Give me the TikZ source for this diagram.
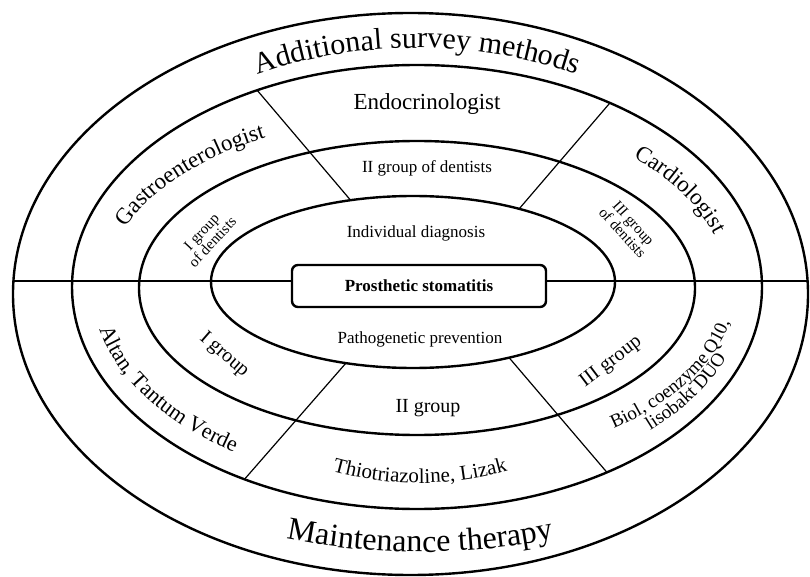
\documentclass[tikz,border=0pt]{standalone}
\usepackage{fontspec}
\setmainfont{Liberation Serif}
\usetikzlibrary{calc,decorations.text}
\begin{document}
\begin{tikzpicture}[x=1pt,y=1pt,
  ring/.style={line width=2.4pt},
  divider/.style={line width=1.2pt},
  hline/.style={line width=1.4pt},
  lbl/.style={inner sep=0pt, anchor=base, font=\fontsize{17}{19}\selectfont},
  small/.style={inner sep=0pt, align=center, font=\fontsize{15}{11.5}\selectfont},
  mid/.style={inner sep=0pt, font=\fontsize{20}{22}\selectfont},
  curved/.style={decorate, decoration={text along path, text align=center, text={#1}}},
]
\useasboundingbox (0,0) rectangle (810,576);
% centres of the rings
\coordinate (c1) at (410.5,282);
\coordinate (c2) at (417,289);
\coordinate (c3) at (417,288);
\coordinate (c4) at (413,294);
\coordinate (ct) at (420,290);
% rings
\draw[ring] (c1) ellipse [x radius=397.5, y radius=281];
\draw[ring] (c2) ellipse [x radius=345, y radius=222];
\draw[ring] (c3) ellipse [x radius=278, y radius=147];
\draw[ring] (c4) ellipse [x radius=202, y radius=86];
% central box
\node[draw, line width=2.4pt, rounded corners=6pt, minimum width=254pt, minimum height=42pt,
      font=\fontsize{17}{19}\selectfont\bfseries] (box) at (419,290) {Prosthetic stomatitis};
% horizontal line
\coordinate (hl) at (13,295);
\coordinate (hr) at (808,295);
\draw[hline] (hl) -- (hl -| box.west);
\draw[hline] (hr -| box.east) -- (hr);
% dividers
\coordinate (ula) at ($(c2)+(117.6:345pt and 222pt)$);
\coordinate (ulb) at ($(c4)+(108:202pt and 86pt)$);
\coordinate (ura) at ($(c2)+(56:345pt and 222pt)$);
\coordinate (urb) at ($(c4)+(58.3:202pt and 86pt)$);
\coordinate (lla) at ($(c2)+(240:345pt and 222pt)$);
\coordinate (llb) at ($(c4)+(250.6:202pt and 86pt)$);
\coordinate (lra) at ($(c2)+(303.4:345pt and 222pt)$);
\coordinate (lrb) at ($(c4)+(298.4:202pt and 86pt)$);
\draw[divider] (ula) -- (ulb);
\draw[divider] (ura) -- (urb);
\draw[divider] (lla) -- (llb);
\draw[divider] (lra) -- (lrb);
% straight labels
\node[lbl, font=\fontsize{23}{25}\selectfont] (endo) at (427,466) {Endocrinologist};
\node[lbl] (g2d) at (427,403) {II group of dentists};
\node[lbl] (indiv) at (416,338) {Individual diagnosis};
\node[lbl] (patho) at (420,233) {Pathogenetic prevention};
\node[lbl, font=\fontsize{20}{22}\selectfont] (g2) at (428,164) {II group};
% rotated labels
\node[small, rotate=47] (g1d) at (207,339) {I group\\of dentists};
\node[small, rotate=-48] (g3d) at (628,348) {III group\\of dentists};
\node[mid, rotate=-41] (g1) at (224,221) {I group};
\node[mid, rotate=37] (g3) at (611,214) {III group};
% curved labels
\path[curved={|\fontsize{30}{36}\selectfont|Additional survey methods}]
  ($(c2)+(150:347pt and 239pt)$) arc[start angle=150, end angle=30, x radius=347pt, y radius=239pt];
\path[curved={|\fontsize{32}{38}\selectfont|Maintenance therapy}]
  ($(ct)+(230:429pt and 266pt)$) arc[start angle=230, end angle=310, x radius=429pt, y radius=266pt];
\path[curved={|\fontsize{21}{25}\selectfont|Thiotriazoline, Lizak}]
  ($(ct)+(205:255pt and 197pt)$) arc[start angle=205, end angle=335, x radius=255pt, y radius=197pt];
\path[curved={|\fontsize{23}{27}\selectfont|Gastroenterologist}]
  ($(c2)+(172:311pt and 171pt)$) arc[start angle=172, end angle=111.4, x radius=311pt, y radius=171pt];
\path[curved={|\fontsize{23}{27}\selectfont|Cardiologist}]
  ($(c2)+(52:310pt and 181pt)$) arc[start angle=52, end angle=8, x radius=310pt, y radius=181pt];
\path[curved={|\fontsize{22}{26}\selectfont|Altan, Tantum Verde}]
  ($(c2)+(180:325pt and 200pt)$) arc[start angle=180, end angle=244, x radius=325pt, y radius=200pt];
\path[curved={|\fontsize{19}{23}\selectfont|Biol, coenzyme Q10,}]
  ($(c2)+(-58:319pt and 180pt)$) arc[start angle=-58, end angle=-2, x radius=319pt, y radius=180pt];
\path[curved={|\fontsize{19}{23}\selectfont|lisobakt DUO}]
  ($(c2)+(-50:330pt and 203pt)$) arc[start angle=-50, end angle=-14, x radius=330pt, y radius=203pt];
\end{tikzpicture}
\end{document}
